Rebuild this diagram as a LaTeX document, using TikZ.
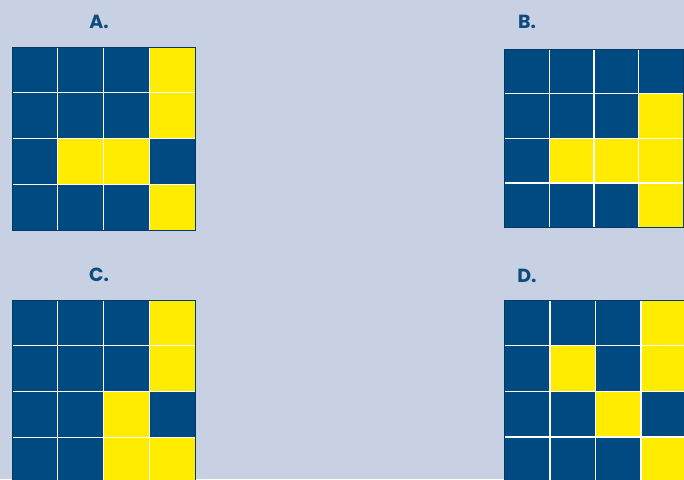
\documentclass[tikz,border=0pt]{standalone}
\usepackage{fontspec}
\setmainfont{Poppins}
\definecolor{bgc}{HTML}{C8D0E3}
\definecolor{dblue}{HTML}{004A82}
\definecolor{ylw}{HTML}{FFEC00}
\definecolor{lbl}{HTML}{0E4A7C}
\tikzset{
  lab/.style={font=\fontsize{19}{21}\selectfont\bfseries, text=lbl, inner sep=0pt},
  cellY/.style={fill=ylw},
  sep/.style={draw=white, line width=1.4pt},
}
% #1 x0, #2 y0, #3 cell size, #4 list of yellow cells r/c
\newcommand\drawgridX[4]{%
  \fill[dblue] (#1,#2) rectangle ++(4*#3,4*#3);
  \foreach \r/\c in {#4} {
    \fill[ylw] ({#1+(\c-1)*#3},{#2+(\r-1)*#3}) rectangle ++(#3,#3);
  }
  \foreach \i in {1,2,3} {
    \draw[sep] ({#1+\i*#3},#2) -- ++(0,4*#3);
    \draw[sep] (#1,{#2+\i*#3}) -- ++(4*#3,0);
  }
  \draw[draw=dblue!80!black, line width=0.8pt] (#1,#2) rectangle ++(4*#3,4*#3);
}
\begin{document}
\begin{tikzpicture}[x=1pt,y=-1pt]
\fill[bgc] (0,0) rectangle (684,479);
\useasboundingbox (0,0) rectangle (684,479);
\node[lab] (la) at (99,21.5) {A.};
\node[lab] (lb) at (527,22) {B.};
\node[lab] (lc) at (99,275) {C.};
\node[lab] (ld) at (527,275.5) {D.};
\drawgridX{12}{47}{45.75}{1/4,2/4,3/2,3/3,4/4}
\drawgridX{504.5}{49}{44.7}{2/4,3/2,3/3,3/4,4/4}
\drawgridX{12}{300}{45.75}{1/4,2/4,3/3,4/3,4/4}
\drawgridX{504.3}{300}{45.6}{1/4,2/2,2/4,3/3,4/4}
\end{tikzpicture}
\end{document}
